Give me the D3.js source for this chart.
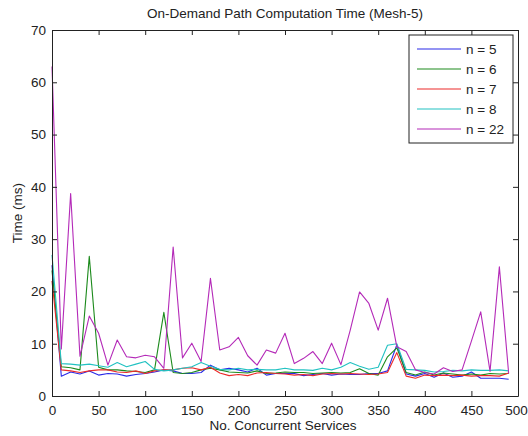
<!DOCTYPE html>
<html>
<head>
<meta charset="utf-8">
<script src="https://cdn.jsdelivr.net/npm/d3@7"></script>
<style>
  html, body { margin: 0; padding: 0; background: #fff; }
  svg { display: block; font-family: "Liberation Sans", Arial, sans-serif; }
</style>
</head>
<body>
<svg id="chart" width="528" height="436"></svg>
<script>
// Number of concurrent services (x) and computation time in ms per mesh size n
const services = d3.range(0, 500, 10);

const n5 = [25.0, 3.8, 4.6, 4.2, 4.8, 4.0, 4.3, 4.2, 3.8, 4.1,
            4.3, 4.6, 5.0, 4.8, 4.3, 4.3, 4.5, 5.9, 5.0, 5.3,
            5.0, 4.6, 5.3, 4.0, 4.3, 4.3, 4.3, 3.9, 4.1, 4.3,
            4.0, 4.2, 4.1, 4.1, 4.3, 4.3, 4.8, 9.8, 4.2, 3.8,
            4.3, 3.6, 4.4, 3.6, 3.8, 4.6, 3.4, 3.4, 3.4, 3.2];

const n6 = [24.0, 5.6, 5.4, 5.0, 26.7, 5.5, 5.0, 5.0, 4.8, 4.7,
            4.5, 5.0, 16.0, 4.5, 4.3, 4.5, 5.0, 5.3, 5.0, 4.6,
            4.5, 4.4, 4.8, 4.3, 4.4, 4.6, 4.5, 4.5, 4.3, 4.4,
            4.5, 4.4, 4.5, 5.2, 4.3, 4.0, 7.5, 9.2, 4.5, 4.0,
            4.6, 4.0, 4.4, 4.2, 4.0, 4.2, 4.0, 4.3, 4.2, 4.3];

const n7 = [22.0, 5.0, 4.8, 4.5, 4.8, 5.0, 5.0, 4.6, 4.5, 4.8,
            4.3, 4.8, 5.0, 5.0, 5.3, 5.4, 5.0, 5.5, 4.4, 3.9,
            4.1, 3.9, 4.4, 4.5, 4.3, 4.2, 4.0, 4.1, 3.9, 4.2,
            4.3, 4.2, 4.3, 4.2, 4.1, 4.2, 4.5, 8.3, 3.8, 3.4,
            4.0, 3.9, 4.0, 3.9, 4.0, 3.8, 3.9, 3.9, 3.8, 4.4];

const n8 = [27.0, 6.2, 6.1, 5.9, 6.1, 5.8, 5.5, 6.4, 5.6, 6.1,
            6.6, 5.1, 4.8, 5.0, 5.3, 5.6, 6.4, 5.7, 5.1, 5.0,
            5.3, 5.0, 5.1, 5.0, 5.0, 5.3, 5.0, 5.0, 4.9, 5.3,
            5.0, 5.5, 6.4, 5.7, 5.1, 5.5, 9.7, 10.0, 5.1, 5.0,
            4.9, 4.6, 4.7, 4.9, 4.8, 5.0, 4.9, 4.9, 5.0, 4.8];

const n22 = [63.0, 9.0, 38.7, 7.6, 15.3, 12.0, 5.9, 10.7, 7.5, 7.3,
             7.8, 7.5, 5.3, 28.5, 7.3, 10.1, 6.6, 22.5, 8.8, 9.4,
             11.2, 7.7, 5.9, 8.8, 8.2, 12.0, 6.2, 7.2, 8.5, 6.2,
             10.1, 6.0, 12.6, 19.9, 17.7, 12.6, 18.7, 9.4, 8.5, 5.0,
             4.5, 4.2, 5.4, 4.7, 5.0, 10.5, 16.1, 4.7, 24.7, 4.3];

const seriesNames = ["n = 5", "n = 6", "n = 7", "n = 8", "n = 22"];
const seriesValues = [n5, n6, n7, n8, n22];
const seriesColors = ["#2b2be8", "#1c8a1c", "#ec2a2a", "#22c2c2", "#b42ab8"];

const xTicks = d3.range(0, 501, 50);
const yTicks = d3.range(0, 71, 10);

const svg = d3.select("#chart");
const margin = { left: 52, right: 10, top: 30, bottom: 40 };
const W = 528, H = 436;
const x = d3.scaleLinear().domain([0, 500]).range([margin.left, W - margin.right]);
const y = d3.scaleLinear().domain([0, 70]).range([H - margin.bottom, margin.top]);

const fontSize = "13.5px";
const ink = "#222";

// Data lines
const line = d3.line().x((d, i) => x(services[i])).y(d => y(d));
const g = svg.append("g");
seriesValues.forEach((vals, k) => {
  g.append("path")
    .datum(vals)
    .attr("fill", "none")
    .attr("stroke", seriesColors[k])
    .attr("stroke-width", 1.1)
    .attr("stroke-linejoin", "round")
    .attr("d", line);
});

// Axes: inward ticks on all four sides
function styleAxis(sel) {
  sel.selectAll("path").attr("stroke", ink);
  sel.selectAll("line").attr("stroke", ink);
  sel.selectAll("text").attr("fill", ink).style("font-size", fontSize).attr("font-family", null);
}

const xAxisBottom = svg.append("g")
  .attr("transform", `translate(0,${y(0)})`)
  .call(d3.axisBottom(x).tickValues(xTicks).tickSizeInner(-5).tickSizeOuter(0).tickPadding(9))
  .call(styleAxis);
// keep the last label inside the page edge
xAxisBottom.selectAll(".tick text").filter(d => d === 500).attr("dx", "-2");

svg.append("g")
  .attr("transform", `translate(0,${y(70)})`)
  .call(d3.axisTop(x).tickValues(xTicks).tickSizeInner(-5).tickSizeOuter(0).tickFormat(""))
  .call(styleAxis);

svg.append("g")
  .attr("transform", `translate(${x(0)},0)`)
  .call(d3.axisLeft(y).tickValues(yTicks).tickSizeInner(-5).tickSizeOuter(0).tickPadding(6))
  .call(styleAxis);

svg.append("g")
  .attr("transform", `translate(${x(500)},0)`)
  .call(d3.axisRight(y).tickValues(yTicks).tickSizeInner(-5).tickSizeOuter(0).tickFormat(""))
  .call(styleAxis);

// Title and axis labels
svg.append("text")
  .attr("x", (x(0) + x(500)) / 2).attr("y", 18)
  .attr("text-anchor", "middle").attr("fill", ink).style("font-size", fontSize)
  .text("On-Demand Path Computation Time (Mesh-5)");

svg.append("text")
  .attr("x", (x(0) + x(500)) / 2 - 2).attr("y", 430)
  .attr("text-anchor", "middle").attr("fill", ink).style("font-size", fontSize)
  .text("No. Concurrent Services");

svg.append("text")
  .attr("transform", `translate(22,${(y(0) + y(70)) / 2}) rotate(-90)`)
  .attr("text-anchor", "middle").attr("fill", ink).style("font-size", fontSize)
  .text("Time (ms)");

// Legend
const lg = svg.append("g").attr("transform", "translate(409,35)");
lg.append("rect")
  .attr("width", 104).attr("height", 108)
  .attr("fill", "#fff").attr("stroke", ink).attr("stroke-width", 1);
seriesNames.forEach((name, k) => {
  const yy = 14 + k * 20;
  lg.append("line")
    .attr("x1", 8).attr("x2", 52).attr("y1", yy).attr("y2", yy)
    .attr("stroke", seriesColors[k]).attr("stroke-width", 1.1);
  lg.append("text")
    .attr("x", 57).attr("y", yy).attr("dy", "0.35em")
    .attr("fill", ink).style("font-size", fontSize)
    .text(name);
});
</script>
</body>
</html>
